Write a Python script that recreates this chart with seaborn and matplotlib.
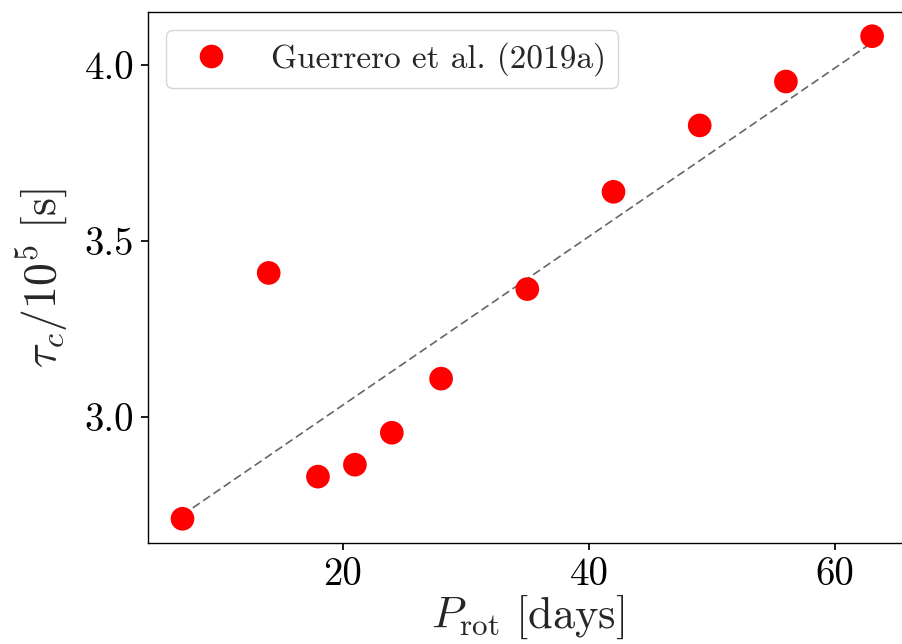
import matplotlib
matplotlib.use("Agg")
import matplotlib.pyplot as plt
import seaborn as sns
import pandas as pd

# Rotation period [days] and convective turnover time [1e5 s]
p_rot = [7, 14, 18, 21, 24, 28, 35, 42, 49, 56, 63]
tau_c = [2.709, 3.409, 2.829, 2.863, 2.954, 3.108, 3.363, 3.640, 3.829, 3.954, 4.083]

# Reference trend line endpoints
trend_x = [7, 63]
trend_y = [2.72, 4.065]

series_label = "Guerrero et al. (2019a)"

sns.set_theme(style="ticks")
plt.rcParams.update({
    "font.family": "serif",
    "font.serif": ["cmr10"],
    "mathtext.fontset": "cm",
    "axes.formatter.use_mathtext": False,
    "axes.unicode_minus": False,
    "axes.edgecolor": "black",
    "axes.linewidth": 1.0,
    "xtick.color": "black",
    "ytick.color": "black",
    "xtick.major.size": 5,
    "ytick.major.size": 5,
})

df = pd.DataFrame({"P": p_rot, "tau": tau_c, "src": series_label})

fig = plt.figure(figsize=(9.02, 6.44), dpi=100)
ax = fig.add_axes([0.1641, 0.1568, 0.841, 0.8246])

ax.plot(trend_x, trend_y, linestyle=(0, (5, 2.5)), color="0.4", linewidth=1.2, zorder=1)
sns.scatterplot(data=df, x="P", y="tau", hue="src", palette=["red"],
                s=290, edgecolor="none", ax=ax, zorder=2)

ax.set_xlim(4.2, 65.8)
ax.set_ylim(2.640, 4.152)
ax.set_xticks([20, 40, 60])
ax.set_xticklabels(["20", "40", "60"])
ax.set_yticks([3.0, 3.5, 4.0])
ax.set_yticklabels(["3.0", "3.5", "4.0"])
ax.tick_params(labelsize=28, pad=5)

ax.set_xlabel(r"$P_{\rm rot}\ [{\rm days}]$", fontsize=32, labelpad=0)
ax.set_ylabel(r"$\tau_c/10^5\ [{\rm s}]$", fontsize=33, labelpad=10)

leg = ax.legend(loc="upper left", fontsize=24, markerscale=1.0,
                handletextpad=0.8, borderpad=0.35, borderaxespad=0.55)
for h in leg.legend_handles:
    if hasattr(h, "set_markersize"):
        h.set_markersize(17)
    elif hasattr(h, "set_sizes"):
        h.set_sizes([290])

fig.savefig("out.png", dpi=100)
